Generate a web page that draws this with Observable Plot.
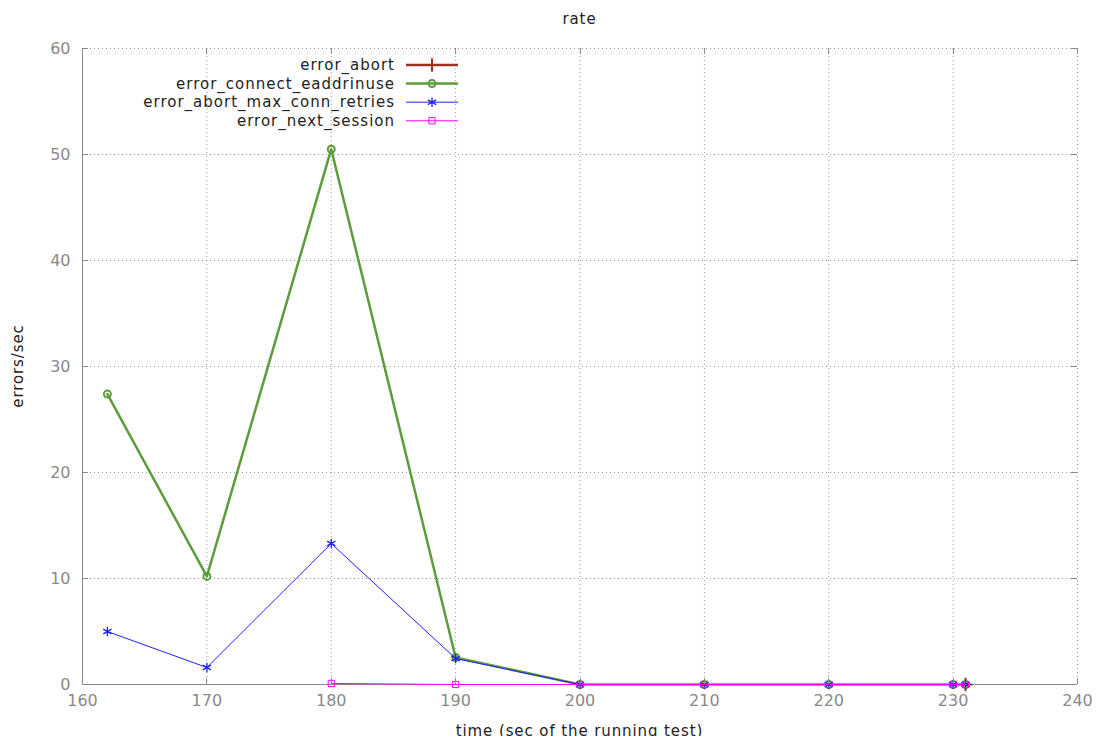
<!DOCTYPE html>
<html><head><meta charset="utf-8">
<script src="https://cdn.jsdelivr.net/npm/d3@7"></script>
<script src="https://cdn.jsdelivr.net/npm/@observablehq/plot@0.6"></script>
<style>body{margin:0;background:#fff} svg{display:block}</style>
</head><body><div id="chart"></div>
<script>
// ---- data ----
const seriesNames = ["error_abort", "error_connect_eaddrinuse", "error_abort_max_conn_retries", "error_next_session"];
const abortTime = [231];
const abortRate = [0];
const eaddrTime = [162, 170, 180, 190, 200, 210, 220, 230, 231];
const eaddrRate = [27.4, 10.2, 50.5, 2.55, 0, 0, 0, 0, 0];
const retriesTime = [162, 170, 180, 190, 200, 210, 220, 230, 231];
const retriesRate = [5.0, 1.6, 13.3, 2.45, 0, 0, 0, 0, 0];
const nextTime = [180, 190, 200, 210, 220, 230, 231];
const nextRate = [0.1, 0, 0, 0, 0, 0, 0];
const xTicks = [160, 170, 180, 190, 200, 210, 220, 230, 240];
const yTicks = [0, 10, 20, 30, 40, 50, 60];
const titleText = "rate";
const xLabel = "time (sec of the running test)";
const yLabel = "errors/sec";

// ---- styles ----
const styles = [
  {color: "#9b3325", width: 2.5, symbol: "plus", r: 4.5, sw: 2},
  {color: "#5d9c3a", width: 2.5, symbol: "circle", r: 3.5, sw: 2},
  {color: "#2020ff", width: 1, symbol: "asterisk", r: 4.5, sw: 1.3},
  {color: "#ff00ff", width: 1, symbol: "square", r: 3.5, sw: 1}
];
const zip = (t, v) => t.map((x, i) => ({x, y: v[i]}));
const series = [zip(abortTime, abortRate), zip(eaddrTime, eaddrRate), zip(retriesTime, retriesRate), zip(nextTime, nextRate)];

const W = 1098, H = 736, mL = 82, mR = 21, mT = 48, mB = 52;
const font = "DejaVu Sans, sans-serif";

const marks = [
  Plot.gridX(xTicks, {stroke: "#9a9a9a", strokeOpacity: 1, strokeDasharray: "1,3"}),
  Plot.gridY(yTicks, {stroke: "#9a9a9a", strokeOpacity: 1, strokeDasharray: "1,3"}),
  Plot.ruleX([160], {stroke: "#888"}),
  Plot.ruleY([0], {stroke: "#888"}),
  Plot.axisX(xTicks, {tickSize: 0, tickPadding: 10, label: null, fontSize: 16}),
  Plot.axisY(yTicks, {tickSize: 0, tickPadding: 12, label: null, fontSize: 16}),
];
series.forEach((d, i) => {
  const s = styles[i];
  marks.push(Plot.line(d, {x: "x", y: "y", stroke: s.color, strokeWidth: s.width}));
  marks.push(Plot.dot(d, {x: "x", y: "y", stroke: s.color, fill: "none", symbol: s.symbol, r: s.r, strokeWidth: s.sw}));
});

const plot = Plot.plot({
  width: W, height: H,
  marginLeft: mL, marginRight: mR, marginTop: mT, marginBottom: mB,
  style: {fontFamily: font, fontSize: "16px", background: "#fff", overflow: "visible"},
  x: {domain: [160, 240]},
  y: {domain: [0, 60]},
  marks
});
document.getElementById("chart").appendChild(plot);

const svg = d3.select(plot);
svg.selectAll("[aria-label='x-axis tick label'], [aria-label='y-axis tick label']").attr("fill", "#8a8a8a");
svg.selectAll("[aria-label='x-axis tick label'] text, [aria-label='y-axis tick label'] text").attr("fill", "#8a8a8a");

// mirror/inward ticks through plot scales
const xs = plot.scale("x"), ys = plot.scale("y");
const y0 = ys.apply(0), y1 = ys.apply(60), x0 = xs.apply(160), x1 = xs.apply(240);
const tg = svg.append("g").attr("stroke", "#8a8a8a").attr("stroke-width", 1);
xTicks.forEach(t => {
  const x = Math.round(xs.apply(t)) + 0.5;
  tg.append("line").attr("x1", x).attr("x2", x).attr("y1", y0).attr("y2", y0 - 6);
  tg.append("line").attr("x1", x).attr("x2", x).attr("y1", y1).attr("y2", y1 + 6);
});
yTicks.forEach(t => {
  const y = Math.round(ys.apply(t)) + 0.5;
  tg.append("line").attr("x1", x0).attr("x2", x0 + 6).attr("y1", y).attr("y2", y);
  tg.append("line").attr("x1", x1).attr("x2", x1 - 6).attr("y1", y).attr("y2", y);
});

// title and axis labels
const cx = (x0 + x1) / 2, cy = (y0 + y1) / 2;
const lab = svg.append("g").attr("font-family", font).attr("font-size", 15).attr("fill", "#222").attr("letter-spacing", "0.9px").attr("text-anchor", "middle");
lab.append("text").attr("x", cx).attr("y", 24).text(titleText);
lab.append("text").attr("x", cx).attr("y", 736).text(xLabel);
lab.append("text").attr("transform", `translate(23,${cy}) rotate(-90)`).text(yLabel);

// legend
const lg = svg.append("g").attr("font-family", font).attr("font-size", 15).attr("letter-spacing", "1px");
const symMap = {plus: d3.symbolPlus, circle: d3.symbolCircle, asterisk: d3.symbolAsterisk, square: d3.symbolSquare};
seriesNames.forEach((name, i) => {
  const s = styles[i];
  const ly = 65 + i * 18.6;
  lg.append("text").attr("x", 395).attr("y", ly).attr("dy", "0.35em").attr("text-anchor", "end").attr("fill", "#222").text(name);
  lg.append("line").attr("x1", 406).attr("x2", 458).attr("y1", ly).attr("y2", ly).attr("stroke", s.color).attr("stroke-width", s.width);
  lg.append("path").attr("d", d3.symbol(symMap[s.symbol], Math.PI * s.r * s.r)()).attr("transform", `translate(432,${ly})`)
    .attr("fill", "none").attr("stroke", s.color).attr("stroke-width", s.sw);
});
</script>
</body></html>
